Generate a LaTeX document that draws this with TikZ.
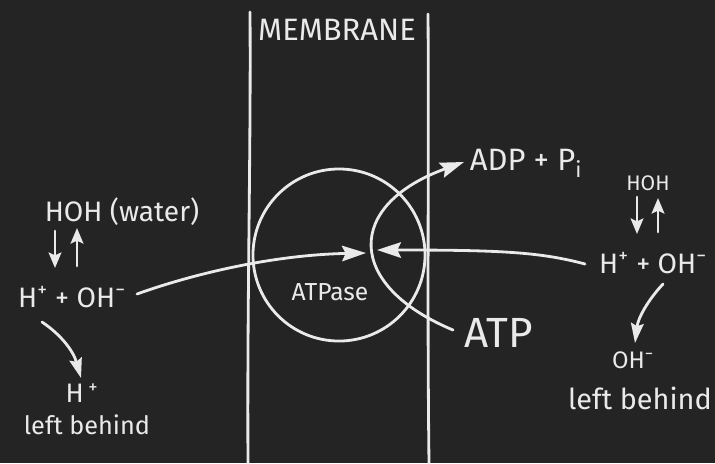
\documentclass[tikz,border=0pt]{standalone}
\usepackage{fontspec}
\setmainfont{Fira Sans}
\usetikzlibrary{arrows.meta}
\definecolor{board}{HTML}{242424}
\definecolor{chalk}{HTML}{EAEAEA}
\begin{document}
\begin{tikzpicture}[x=0.025cm,y=-0.025cm,
  chalkline/.style={draw=chalk,line width=2pt,line cap=round},
  arr/.style={chalkline,-{Stealth[length=17pt,width=11pt,inset=2.5pt]}},
  midarr/.style={chalkline,-{Stealth[length=14pt,width=9pt,inset=2pt]}},
  smallarr/.style={chalkline,-{Stealth[length=11pt,width=9pt,inset=2pt]}},
  lbl/.style={text=chalk,inner sep=1pt}]
\fill[board] (0,0) rectangle (715,463);
\useasboundingbox (0,0) rectangle (715,463);
% membrane walls
\draw[chalkline] (250,12) .. controls (251,150) and (247,300) .. (248,463);
\draw[chalkline] (428,14) .. controls (429,150) and (427,300) .. (429,463);
\node[lbl,font=\fontsize{22}{24}\selectfont] (membrane) at (337,30) {MEMBRANE};
% ATPase circle
\draw[chalkline] (339,255) circle [radius=2.15cm];
\node[lbl,font=\fontsize{17.5}{19}\selectfont] (atpase) at (330,292) {ATPase};
% left side
\node[lbl,font=\fontsize{20}{22}\selectfont] (lhoh) at (122,212) {HOH (water)};
\node[lbl,font=\fontsize{20}{22}\selectfont] (lho) at (72,297) {H\textsuperscript{+} + OH\textsuperscript{−}};
\node[lbl,font=\fontsize{19}{21}\selectfont] (lh) at (82,393) {H\,\textsuperscript{+}};
\node[lbl,font=\fontsize{18}{20}\selectfont] (lleft) at (87,425) {left behind};
\coordinate (ld1) at (55,231);
\coordinate (ld2) at (55,268);
\coordinate (lu1) at (77,266);
\coordinate (lu2) at (77,228);
\draw[smallarr] (ld1) -- (ld2);
\draw[smallarr] (lu1) -- (lu2);
\coordinate (lstart) at (137,294);
\coordinate (ltip) at (366,253);
\draw[arr] (lstart) .. controls (190,275) and (270,255) .. (ltip);
\coordinate (lcs) at (42,322);
\coordinate (lce) at (81,378);
\draw[midarr] (lcs) .. controls (60,334) and (73,350) .. (lce);
% right side
\node[lbl,font=\fontsize{22}{24}\selectfont] (adp) at (526,163) {ADP + P\textsubscript{i}};
\node[lbl,font=\fontsize{30}{32}\selectfont] (atp) at (499,333) {ATP};
\node[lbl,font=\fontsize{15}{17}\selectfont] (rhoh) at (648,183) {HOH};
\node[lbl,font=\fontsize{20}{22}\selectfont] (rho) at (653,263) {H\textsuperscript{+} + OH\textsuperscript{−}};
\node[lbl,font=\fontsize{17}{19}\selectfont] (roh) at (633,360) {OH\textsuperscript{−}};
\node[lbl,font=\fontsize{20.5}{22}\selectfont] (rleft) at (640,398) {left behind};
\coordinate (rd1) at (637,197);
\coordinate (rd2) at (637,234);
\coordinate (ru1) at (658,232);
\coordinate (ru2) at (658,198);
\draw[smallarr] (rd1) -- (rd2);
\draw[smallarr] (ru1) -- (ru2);
\coordinate (rstart) at (585,264);
\coordinate (rtip) at (377,250);
\draw[arr] (rstart) .. controls (540,252) and (500,250) .. (rtip);
\coordinate (rcs) at (663,284);
\coordinate (rce) at (635,343);
\draw[midarr] (rcs) .. controls (648,300) and (638,318) .. (rce);
% ATP -> ADP + Pi
\coordinate (atpend) at (453,330);
\coordinate (adptip) at (464,162);
\draw[arr] (atpend) .. controls (345,285) and (345,205) .. (adptip);
\end{tikzpicture}
\end{document}
